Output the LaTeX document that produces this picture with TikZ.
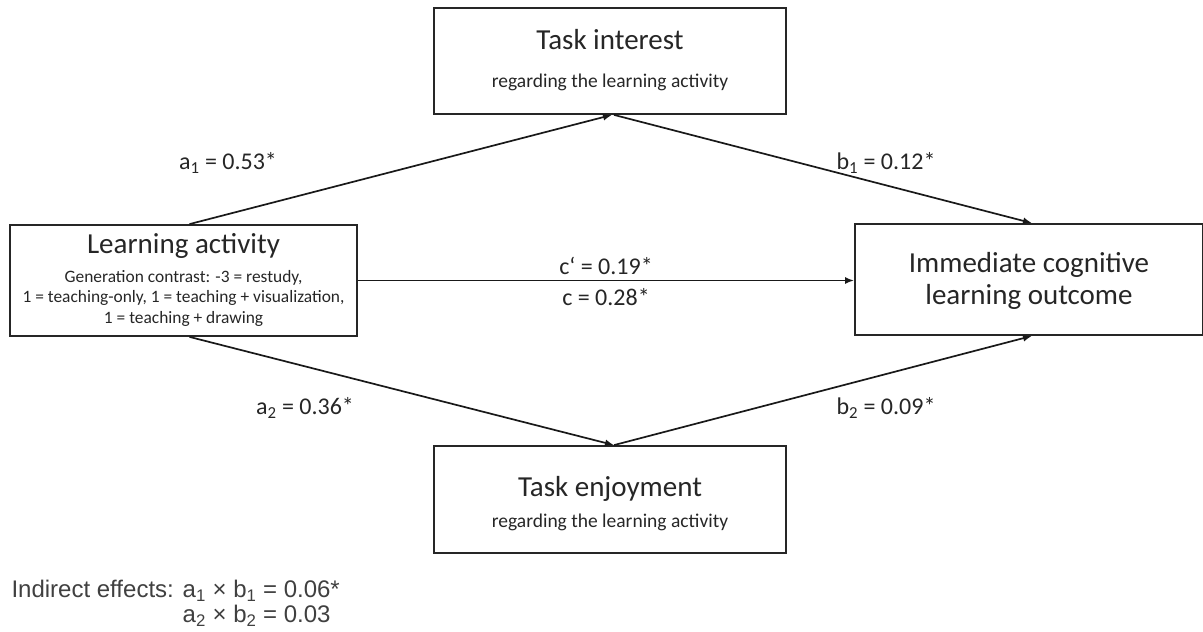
\documentclass[tikz,border=0pt]{standalone}
\usepackage{fontspec}
\setmainfont{Carlito}
\newfontfamily\arialfont{Liberation Sans}
\usetikzlibrary{arrows.meta,calc}
\begin{document}
\begin{tikzpicture}[x=1pt,y=-1pt,
  box/.style={draw=black!85,line width=1.8pt,inner sep=0pt,minimum width=#1},
  title/.style={font=\fontsize{29}{32}\selectfont,text=black!85},
  sub/.style={font=\fontsize{19.5}{22}\selectfont,text=black!85},
  coef/.style={font=\fontsize{24}{27}\selectfont,text=black!85},
  note/.style={anchor=west,font=\arialfont\fontsize{24}{27}\selectfont,text=black!75},
  path/.style={line width=1.7pt,draw=black!90,-{Latex[length=9pt,width=7pt]}}]
\useasboundingbox (0,0) rectangle (1203,632);

% boxes
\node[box=352pt,minimum height=106pt] (ti) at (610,61) {};
\node[box=347pt,minimum height=111pt] (la) at (183.5,280.5) {};
\node[box=348pt,minimum height=111pt] (ro) at (1029,279.5) {};
\node[box=352pt,minimum height=107pt] (te) at (610,499.5) {};

% box texts
\node[title] (tit) at (610,40) {Task interest};
\node[sub] (tis) at (610,82) {regarding the learning activity};
\node[title] (lat) at (183.5,246) {Learning activity};
\node[align=center,font=\fontsize{17.4}{20.5}\selectfont,text=black!85] (las) at (183.5,298)
  {Generation contrast: -3 = restudy,\\1 = teaching-only, 1 = teaching + visualization,\\1 = teaching + drawing};
\node[title,align=center,font=\fontsize{29}{32}\selectfont] (rot) at (1029,281)
  {Immediate cognitive\\learning outcome};
\node[title] (tet) at (610,489) {Task enjoyment};
\node[sub] (tes) at (610,522) {regarding the learning activity};

% paths
\draw[path] ($(la.north)+(6,0)$) -- ($(ti.south)+(2,0)$);
\draw[path] ($(ti.south)+(4,0)$) -- ($(ro.north)+(3,0)$);
\draw[path] (la.east) -- (la.east -| ro.west);
\draw[path] ($(la.south)+(6,0)$) -- ($(te.north)+(4,0)$);
\draw[path] ($(te.north)+(4,0)$) -- ($(ro.south)+(3,0)$);

% coefficients
\node[coef] (a1) at (228,163) {a\textsubscript{1} = 0.53*};
\node[coef] (b1) at (886,163) {b\textsubscript{1} = 0.12*};
\node[coef] (cp) at (606,266) {c‘ = 0.19*};
\node[coef] (c) at (606,297) {c = 0.28*};
\node[coef] (a2) at (305,408) {a\textsubscript{2} = 0.36*};
\node[coef] (b2) at (886,408) {b\textsubscript{2} = 0.09*};

% indirect effects
\node[note] (ie1) at (8,591)
  {Indirect effects: a\textsubscript{1} × b\textsubscript{1} = 0.06*};
\node[note] (ie2) at (8,616)
  {\phantom{Indirect effects: }a\textsubscript{2} × b\textsubscript{2} = 0.03};
\end{tikzpicture}
\end{document}
